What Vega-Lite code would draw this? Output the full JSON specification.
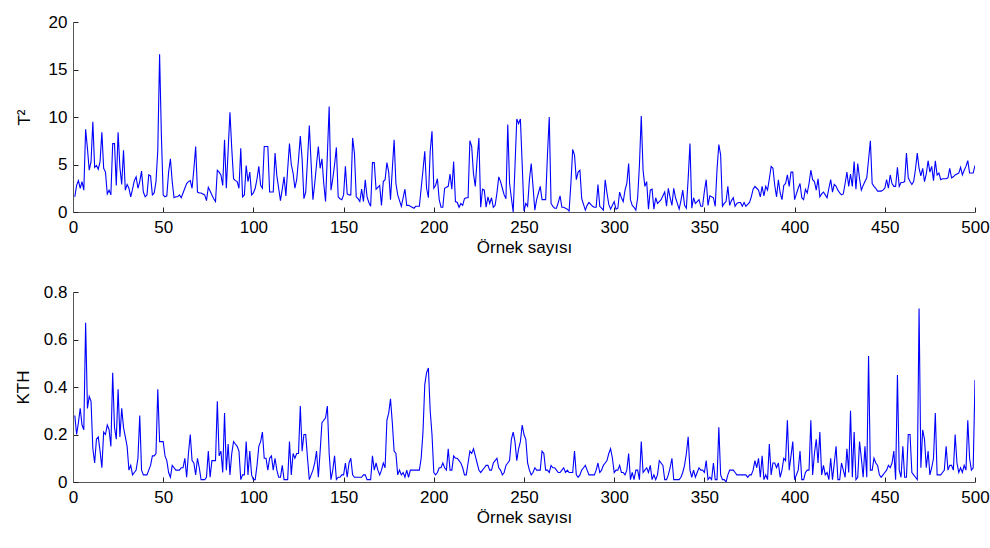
{
"$schema": "https://vega.github.io/schema/vega-lite/v6.json",
"background": "white",
"padding": {"left": 14, "top": 13, "right": 0, "bottom": 0},
"spacing": 28,
"config": {
  "view": {"stroke": null},
  "font": "Liberation Sans",
  "axis": {"grid": false, "domainColor": "#555", "domainWidth": 1, "tickColor": "#222", "tickSize": -5, "tickWidth": 1, "labelColor": "#000", "titleColor": "#000", "labelFontSize": 17, "titleFontSize": 17, "titleFontWeight": "normal", "labelPadding": 11}
},
"datasets": {"d": [
{"x":1,"t":1.6,"k":0.28},{"x":2,"t":2.8,"k":0.20},{"x":3,"t":3.3,"k":0.25},{"x":4,"t":2.5,"k":0.31},{"x":5,"t":3.2,"k":0.24},{"x":6,"t":2.3,"k":0.22},{"x":7,"t":8.7,"k":0.67},{"x":8,"t":6.7,"k":0.31},{"x":9,"t":4.4,"k":0.36},{"x":10,"t":5.3,"k":0.34},
{"x":11,"t":9.5,"k":0.14},{"x":12,"t":4.7,"k":0.08},{"x":13,"t":4.9,"k":0.18},{"x":14,"t":4.5,"k":0.19},{"x":15,"t":5.3,"k":0.13},{"x":16,"t":8.4,"k":0.06},{"x":17,"t":4.6,"k":0.21},{"x":18,"t":4.2,"k":0.20},{"x":19,"t":1.9,"k":0.24},{"x":20,"t":2.3,"k":0.22},
{"x":21,"t":1.8,"k":0.15},{"x":22,"t":7.2,"k":0.46},{"x":23,"t":7.2,"k":0.23},{"x":24,"t":2.8,"k":0.18},{"x":25,"t":8.4,"k":0.39},{"x":26,"t":4.7,"k":0.19},{"x":27,"t":2.9,"k":0.31},{"x":28,"t":6.5,"k":0.23},{"x":29,"t":2.3,"k":0.19},{"x":30,"t":2.9,"k":0.15},
{"x":31,"t":2.5,"k":0.05},{"x":32,"t":1.6,"k":0.07},{"x":33,"t":2.4,"k":0.03},{"x":34,"t":3.3,"k":0.04},{"x":35,"t":3.7,"k":0.05},{"x":36,"t":2.5,"k":0.10},{"x":37,"t":3.2,"k":0.28},{"x":38,"t":4.3,"k":0.05},{"x":39,"t":2.1,"k":0.03},{"x":40,"t":1.6,"k":0.03},
{"x":41,"t":1.8,"k":0.03},{"x":42,"t":3.9,"k":0.05},{"x":43,"t":3.8,"k":0.07},{"x":44,"t":1.8,"k":0.11},{"x":45,"t":2.0,"k":0.11},{"x":46,"t":3.2,"k":0.12},{"x":47,"t":6.5,"k":0.39},{"x":48,"t":16.6,"k":0.17},{"x":49,"t":8.0,"k":0.17},{"x":50,"t":1.8,"k":0.17},
{"x":51,"t":1.6,"k":0.11},{"x":52,"t":1.7,"k":0.09},{"x":53,"t":4.2,"k":0.04},{"x":54,"t":5.6,"k":0.02},{"x":55,"t":3.2,"k":0.07},{"x":56,"t":1.5,"k":0.06},{"x":57,"t":1.6,"k":0.05},{"x":58,"t":1.6,"k":0.05},{"x":59,"t":1.8,"k":0.05},{"x":60,"t":1.5,"k":0.06},
{"x":61,"t":2.0,"k":0.06},{"x":62,"t":2.5,"k":0.10},{"x":63,"t":3.0,"k":0.02},{"x":64,"t":3.2,"k":0.12},{"x":65,"t":3.3,"k":0.20},{"x":66,"t":2.5,"k":0.09},{"x":67,"t":4.5,"k":0.08},{"x":68,"t":6.9,"k":0.03},{"x":69,"t":2.1,"k":0.10},{"x":70,"t":2.0,"k":0.06},
{"x":71,"t":2.0,"k":0.01},{"x":72,"t":1.9,"k":0.01},{"x":73,"t":1.8,"k":0.01},{"x":74,"t":1.2,"k":0.02},{"x":75,"t":2.6,"k":0.13},{"x":76,"t":2.2,"k":0.02},{"x":77,"t":1.8,"k":0.09},{"x":78,"t":1.4,"k":0.09},{"x":79,"t":1.1,"k":0.09},{"x":80,"t":4.4,"k":0.34},
{"x":81,"t":4.2,"k":0.11},{"x":82,"t":3.9,"k":0.13},{"x":83,"t":2.8,"k":0.04},{"x":84,"t":7.6,"k":0.29},{"x":85,"t":2.5,"k":0.05},{"x":86,"t":6.5,"k":0.16},{"x":87,"t":10.5,"k":0.03},{"x":88,"t":6.7,"k":0.12},{"x":89,"t":3.5,"k":0.17},{"x":90,"t":3.3,"k":0.16},
{"x":91,"t":3.2,"k":0.15},{"x":92,"t":2.5,"k":0.13},{"x":93,"t":6.7,"k":0.01},{"x":94,"t":1.6,"k":0.03},{"x":95,"t":1.8,"k":0.03},{"x":96,"t":4.9,"k":0.17},{"x":97,"t":3.2,"k":0.03},{"x":98,"t":4.2,"k":0.13},{"x":99,"t":1.8,"k":0.03},{"x":100,"t":2.0,"k":0.01},
{"x":101,"t":2.5,"k":0.01},{"x":102,"t":3.5,"k":0.07},{"x":103,"t":4.8,"k":0.15},{"x":104,"t":2.8,"k":0.17},{"x":105,"t":2.5,"k":0.21},{"x":106,"t":6.9,"k":0.10},{"x":107,"t":6.9,"k":0.10},{"x":108,"t":6.9,"k":0.05},{"x":109,"t":2.1,"k":0.10},{"x":110,"t":2.1,"k":0.11},
{"x":111,"t":2.1,"k":0.05},{"x":112,"t":6.2,"k":0.10},{"x":113,"t":3.8,"k":0.05},{"x":114,"t":2.5,"k":0.02},{"x":115,"t":1.2,"k":0.02},{"x":116,"t":2.4,"k":0.07},{"x":117,"t":3.7,"k":0.01},{"x":118,"t":1.7,"k":0.01},{"x":119,"t":4.5,"k":0.01},{"x":120,"t":7.2,"k":0.17},
{"x":121,"t":5.0,"k":0.03},{"x":122,"t":4.1,"k":0.12},{"x":123,"t":2.5,"k":0.10},{"x":124,"t":3.4,"k":0.12},{"x":125,"t":5.5,"k":0.12},{"x":126,"t":8.0,"k":0.32},{"x":127,"t":5.6,"k":0.13},{"x":128,"t":1.4,"k":0.20},{"x":129,"t":2.1,"k":0.20},{"x":130,"t":5.5,"k":0.10},
{"x":131,"t":9.1,"k":0.01},{"x":132,"t":5.1,"k":0.03},{"x":133,"t":1.3,"k":0.05},{"x":134,"t":3.0,"k":0.08},{"x":135,"t":5.0,"k":0.13},{"x":136,"t":6.9,"k":0.02},{"x":137,"t":4.6,"k":0.13},{"x":138,"t":5.6,"k":0.25},{"x":139,"t":3.0,"k":0.26},{"x":140,"t":1.1,"k":0.27},
{"x":141,"t":6.0,"k":0.32},{"x":142,"t":11.1,"k":0.12},{"x":143,"t":2.3,"k":0.01},{"x":144,"t":3.5,"k":0.05},{"x":145,"t":5.0,"k":0.11},{"x":146,"t":6.8,"k":0.01},{"x":147,"t":1.6,"k":0.02},{"x":148,"t":1.4,"k":0.02},{"x":149,"t":1.3,"k":0.03},{"x":150,"t":1.8,"k":0.03},
{"x":151,"t":4.8,"k":0.08},{"x":152,"t":1.9,"k":0.02},{"x":153,"t":1.8,"k":0.08},{"x":154,"t":1.8,"k":0.10},{"x":155,"t":7.8,"k":0.03},{"x":156,"t":6.2,"k":0.02},{"x":157,"t":1.6,"k":0.02},{"x":158,"t":1.4,"k":0.02},{"x":159,"t":1.1,"k":0.02},{"x":160,"t":2.4,"k":0.02},
{"x":161,"t":1.1,"k":0.03},{"x":162,"t":3.4,"k":0.03},{"x":163,"t":1.6,"k":0.01},{"x":164,"t":1.0,"k":0.01},{"x":165,"t":0.6,"k":0.01},{"x":166,"t":5.2,"k":0.11},{"x":167,"t":5.2,"k":0.05},{"x":168,"t":2.4,"k":0.08},{"x":169,"t":2.6,"k":0.05},{"x":170,"t":2.8,"k":0.03},
{"x":171,"t":0.7,"k":0.05},{"x":172,"t":3.2,"k":0.08},{"x":173,"t":3.4,"k":0.06},{"x":174,"t":5.2,"k":0.26},{"x":175,"t":4.2,"k":0.29},{"x":176,"t":1.3,"k":0.35},{"x":177,"t":4.5,"k":0.25},{"x":178,"t":7.6,"k":0.13},{"x":179,"t":3.0,"k":0.12},{"x":180,"t":1.8,"k":0.03},
{"x":181,"t":1.2,"k":0.05},{"x":182,"t":0.6,"k":0.03},{"x":183,"t":1.5,"k":0.04},{"x":184,"t":2.4,"k":0.02},{"x":185,"t":0.7,"k":0.05},{"x":186,"t":0.7,"k":0.02},{"x":187,"t":0.6,"k":0.05},{"x":188,"t":0.5,"k":0.05},{"x":189,"t":0.4,"k":0.05},{"x":190,"t":0.6,"k":0.05},
{"x":191,"t":0.6,"k":0.05},{"x":192,"t":0.6,"k":0.05},{"x":193,"t":2.5,"k":0.10},{"x":194,"t":4.4,"k":0.21},{"x":195,"t":6.4,"k":0.41},{"x":196,"t":2.5,"k":0.46},{"x":197,"t":1.5,"k":0.48},{"x":198,"t":6.4,"k":0.30},{"x":199,"t":8.5,"k":0.20},{"x":200,"t":2.5,"k":0.04},
{"x":201,"t":2.8,"k":0.03},{"x":202,"t":3.5,"k":0.04},{"x":203,"t":1.3,"k":0.06},{"x":204,"t":0.5,"k":0.06},{"x":205,"t":0.5,"k":0.08},{"x":206,"t":2.5,"k":0.06},{"x":207,"t":2.6,"k":0.05},{"x":208,"t":2.7,"k":0.14},{"x":209,"t":4.0,"k":0.05},{"x":210,"t":2.4,"k":0.05},
{"x":211,"t":5.3,"k":0.11},{"x":212,"t":1.1,"k":0.10},{"x":213,"t":1.0,"k":0.10},{"x":214,"t":0.5,"k":0.09},{"x":215,"t":0.9,"k":0.08},{"x":216,"t":0.7,"k":0.06},{"x":217,"t":1.4,"k":0.03},{"x":218,"t":1.5,"k":0.03},{"x":219,"t":1.5,"k":0.08},{"x":220,"t":7.5,"k":0.13},
{"x":221,"t":6.9,"k":0.12},{"x":222,"t":4.0,"k":0.14},{"x":223,"t":2.7,"k":0.11},{"x":224,"t":5.5,"k":0.08},{"x":225,"t":7.8,"k":0.05},{"x":226,"t":0.5,"k":0.04},{"x":227,"t":2.4,"k":0.05},{"x":228,"t":2.3,"k":0.06},{"x":229,"t":0.5,"k":0.07},{"x":230,"t":1.6,"k":0.07},
{"x":231,"t":0.9,"k":0.05},{"x":232,"t":1.5,"k":0.05},{"x":233,"t":0.5,"k":0.08},{"x":234,"t":0.7,"k":0.09},{"x":235,"t":2.0,"k":0.10},{"x":236,"t":3.7,"k":0.06},{"x":237,"t":3.2,"k":0.05},{"x":238,"t":2.5,"k":0.03},{"x":239,"t":1.8,"k":0.04},{"x":240,"t":1.4,"k":0.07},
{"x":241,"t":9.2,"k":0.08},{"x":242,"t":3.0,"k":0.09},{"x":243,"t":1.5,"k":0.18},{"x":244,"t":0.0,"k":0.21},{"x":245,"t":4.8,"k":0.17},{"x":246,"t":9.8,"k":0.09},{"x":247,"t":9.3,"k":0.14},{"x":248,"t":9.8,"k":0.17},{"x":249,"t":5.0,"k":0.24},{"x":250,"t":0.1,"k":0.20},
{"x":251,"t":0.9,"k":0.18},{"x":252,"t":0.6,"k":0.08},{"x":253,"t":3.4,"k":0.05},{"x":254,"t":5.1,"k":0.03},{"x":255,"t":2.7,"k":0.04},{"x":256,"t":0.2,"k":0.06},{"x":257,"t":1.3,"k":0.05},{"x":258,"t":2.0,"k":0.05},{"x":259,"t":2.7,"k":0.05},{"x":260,"t":1.3,"k":0.13},
{"x":261,"t":1.3,"k":0.12},{"x":262,"t":1.3,"k":0.05},{"x":263,"t":6.0,"k":0.05},{"x":264,"t":10.0,"k":0.04},{"x":265,"t":0.9,"k":0.07},{"x":266,"t":0.6,"k":0.06},{"x":267,"t":0.4,"k":0.06},{"x":268,"t":0.4,"k":0.05},{"x":269,"t":1.0,"k":0.04},{"x":270,"t":1.7,"k":0.04},
{"x":271,"t":0.5,"k":0.05},{"x":272,"t":0.5,"k":0.06},{"x":273,"t":0.4,"k":0.04},{"x":274,"t":0.3,"k":0.05},{"x":275,"t":0.1,"k":0.04},{"x":276,"t":3.0,"k":0.04},{"x":277,"t":6.6,"k":0.04},{"x":278,"t":6.0,"k":0.13},{"x":279,"t":3.4,"k":0.03},{"x":280,"t":4.2,"k":0.02},
{"x":281,"t":4.4,"k":0.03},{"x":282,"t":1.4,"k":0.05},{"x":283,"t":0.8,"k":0.06},{"x":284,"t":0.2,"k":0.07},{"x":285,"t":0.7,"k":0.05},{"x":286,"t":1.0,"k":0.03},{"x":287,"t":0.8,"k":0.03},{"x":288,"t":0.6,"k":0.03},{"x":289,"t":0.5,"k":0.03},{"x":290,"t":0.5,"k":0.05},
{"x":291,"t":2.9,"k":0.08},{"x":292,"t":0.6,"k":0.04},{"x":293,"t":0.4,"k":0.05},{"x":294,"t":0.2,"k":0.07},{"x":295,"t":3.4,"k":0.08},{"x":296,"t":2.0,"k":0.09},{"x":297,"t":0.8,"k":0.12},{"x":298,"t":0.3,"k":0.14},{"x":299,"t":0.7,"k":0.10},{"x":300,"t":1.1,"k":0.04},
{"x":301,"t":0.3,"k":0.05},{"x":302,"t":0.4,"k":0.05},{"x":303,"t":2.1,"k":0.07},{"x":304,"t":1.5,"k":0.04},{"x":305,"t":1.1,"k":0.04},{"x":306,"t":2.3,"k":0.03},{"x":307,"t":3.0,"k":0.05},{"x":308,"t":5.1,"k":0.12},{"x":309,"t":1.3,"k":0.01},{"x":310,"t":0.7,"k":0.04},
{"x":311,"t":0.5,"k":0.01},{"x":312,"t":0.2,"k":0.05},{"x":313,"t":1.5,"k":0.05},{"x":314,"t":5.0,"k":0.01},{"x":315,"t":10.1,"k":0.17},{"x":316,"t":4.4,"k":0.04},{"x":317,"t":2.7,"k":0.05},{"x":318,"t":3.2,"k":0.06},{"x":319,"t":0.3,"k":0.04},{"x":320,"t":2.3,"k":0.07},
{"x":321,"t":2.4,"k":0.01},{"x":322,"t":0.3,"k":0.03},{"x":323,"t":1.5,"k":0.01},{"x":324,"t":0.9,"k":0.03},{"x":325,"t":1.1,"k":0.09},{"x":326,"t":1.3,"k":0.08},{"x":327,"t":1.7,"k":0.07},{"x":328,"t":2.1,"k":0.01},{"x":329,"t":0.6,"k":0.01},{"x":330,"t":2.5,"k":0.03},
{"x":331,"t":1.5,"k":0.06},{"x":332,"t":0.7,"k":0.10},{"x":333,"t":2.5,"k":0.01},{"x":334,"t":1.5,"k":0.01},{"x":335,"t":0.9,"k":0.01},{"x":336,"t":0.3,"k":0.01},{"x":337,"t":1.2,"k":0.02},{"x":338,"t":2.3,"k":0.04},{"x":339,"t":0.7,"k":0.07},{"x":340,"t":0.4,"k":0.12},
{"x":341,"t":3.5,"k":0.19},{"x":342,"t":7.2,"k":0.05},{"x":343,"t":0.4,"k":0.02},{"x":344,"t":1.5,"k":0.05},{"x":345,"t":0.9,"k":0.02},{"x":346,"t":1.1,"k":0.04},{"x":347,"t":1.3,"k":0.06},{"x":348,"t":0.6,"k":0.05},{"x":349,"t":0.6,"k":0.05},{"x":350,"t":2.2,"k":0.04},
{"x":351,"t":3.4,"k":0.09},{"x":352,"t":0.7,"k":0.01},{"x":353,"t":1.7,"k":0.02},{"x":354,"t":1.6,"k":0.01},{"x":355,"t":1.5,"k":0.08},{"x":356,"t":0.6,"k":0.01},{"x":357,"t":4.5,"k":0.01},{"x":358,"t":7.1,"k":0.23},{"x":359,"t":6.0,"k":0.03},{"x":360,"t":0.6,"k":0.01},
{"x":361,"t":0.9,"k":0.01},{"x":362,"t":1.1,"k":0.00},{"x":363,"t":2.7,"k":0.03},{"x":364,"t":0.7,"k":0.05},{"x":365,"t":1.2,"k":0.05},{"x":366,"t":1.5,"k":0.05},{"x":367,"t":0.6,"k":0.04},{"x":368,"t":0.9,"k":0.03},{"x":369,"t":1.0,"k":0.03},{"x":370,"t":1.0,"k":0.03},
{"x":371,"t":0.6,"k":0.03},{"x":372,"t":1.0,"k":0.03},{"x":373,"t":0.6,"k":0.03},{"x":374,"t":0.8,"k":0.02},{"x":375,"t":1.0,"k":0.03},{"x":376,"t":1.6,"k":0.03},{"x":377,"t":2.4,"k":0.05},{"x":378,"t":2.7,"k":0.09},{"x":379,"t":2.5,"k":0.06},{"x":380,"t":2.3,"k":0.10},
{"x":381,"t":1.6,"k":0.02},{"x":382,"t":2.7,"k":0.11},{"x":383,"t":1.7,"k":0.01},{"x":384,"t":2.7,"k":0.03},{"x":385,"t":2.3,"k":0.01},{"x":386,"t":3.5,"k":0.16},{"x":387,"t":4.8,"k":0.03},{"x":388,"t":4.6,"k":0.08},{"x":389,"t":2.8,"k":0.08},{"x":390,"t":1.6,"k":0.06},
{"x":391,"t":3.4,"k":0.08},{"x":392,"t":2.0,"k":0.02},{"x":393,"t":1.3,"k":0.05},{"x":394,"t":2.8,"k":0.10},{"x":395,"t":3.0,"k":0.09},{"x":396,"t":3.9,"k":0.26},{"x":397,"t":2.7,"k":0.05},{"x":398,"t":4.2,"k":0.11},{"x":399,"t":4.2,"k":0.17},{"x":400,"t":1.3,"k":0.01},
{"x":401,"t":1.9,"k":0.03},{"x":402,"t":2.5,"k":0.05},{"x":403,"t":3.0,"k":0.13},{"x":404,"t":1.5,"k":0.01},{"x":405,"t":1.3,"k":0.01},{"x":406,"t":2.4,"k":0.04},{"x":407,"t":2.0,"k":0.05},{"x":408,"t":3.0,"k":0.05},{"x":409,"t":4.4,"k":0.26},{"x":410,"t":3.4,"k":0.03},
{"x":411,"t":3.2,"k":0.12},{"x":412,"t":2.3,"k":0.18},{"x":413,"t":3.5,"k":0.08},{"x":414,"t":1.6,"k":0.21},{"x":415,"t":1.9,"k":0.03},{"x":416,"t":2.1,"k":0.07},{"x":417,"t":1.8,"k":0.03},{"x":418,"t":1.5,"k":0.04},{"x":419,"t":2.5,"k":0.01},{"x":420,"t":3.4,"k":0.10},
{"x":421,"t":2.1,"k":0.01},{"x":422,"t":2.9,"k":0.08},{"x":423,"t":2.7,"k":0.15},{"x":424,"t":2.3,"k":0.01},{"x":425,"t":2.0,"k":0.01},{"x":426,"t":1.8,"k":0.08},{"x":427,"t":1.9,"k":0.05},{"x":428,"t":3.0,"k":0.02},{"x":429,"t":4.2,"k":0.14},{"x":430,"t":2.7,"k":0.04},
{"x":431,"t":4.0,"k":0.30},{"x":432,"t":2.7,"k":0.02},{"x":433,"t":5.3,"k":0.21},{"x":434,"t":2.4,"k":0.01},{"x":435,"t":5.1,"k":0.02},{"x":436,"t":3.5,"k":0.17},{"x":437,"t":2.3,"k":0.10},{"x":438,"t":2.8,"k":0.02},{"x":439,"t":3.2,"k":0.15},{"x":440,"t":3.6,"k":0.02},
{"x":441,"t":5.5,"k":0.53},{"x":442,"t":7.5,"k":0.05},{"x":443,"t":3.0,"k":0.05},{"x":444,"t":2.7,"k":0.10},{"x":445,"t":2.5,"k":0.08},{"x":446,"t":2.2,"k":0.07},{"x":447,"t":2.2,"k":0.03},{"x":448,"t":2.2,"k":0.02},{"x":449,"t":2.3,"k":0.03},{"x":450,"t":2.5,"k":0.04},
{"x":451,"t":3.4,"k":0.05},{"x":452,"t":2.5,"k":0.07},{"x":453,"t":3.9,"k":0.06},{"x":454,"t":3.0,"k":0.08},{"x":455,"t":2.7,"k":0.13},{"x":456,"t":2.7,"k":0.01},{"x":457,"t":4.7,"k":0.45},{"x":458,"t":2.7,"k":0.05},{"x":459,"t":3.1,"k":0.02},{"x":460,"t":3.1,"k":0.15},
{"x":461,"t":3.2,"k":0.02},{"x":462,"t":6.2,"k":0.02},{"x":463,"t":3.6,"k":0.20},{"x":464,"t":3.2,"k":0.20},{"x":465,"t":2.9,"k":0.04},{"x":466,"t":3.2,"k":0.03},{"x":467,"t":4.5,"k":0.02},{"x":468,"t":6.2,"k":0.01},{"x":469,"t":4.6,"k":0.73},{"x":470,"t":3.8,"k":0.06},
{"x":471,"t":4.6,"k":0.22},{"x":472,"t":3.2,"k":0.18},{"x":473,"t":4.0,"k":0.06},{"x":474,"t":5.4,"k":0.13},{"x":475,"t":4.2,"k":0.03},{"x":476,"t":4.8,"k":0.06},{"x":477,"t":3.3,"k":0.10},{"x":478,"t":5.4,"k":0.29},{"x":479,"t":3.9,"k":0.03},{"x":480,"t":4.1,"k":0.03},
{"x":481,"t":3.4,"k":0.03},{"x":482,"t":3.5,"k":0.04},{"x":483,"t":3.5,"k":0.05},{"x":484,"t":3.5,"k":0.15},{"x":485,"t":3.6,"k":0.05},{"x":486,"t":4.6,"k":0.07},{"x":487,"t":3.6,"k":0.07},{"x":488,"t":3.7,"k":0.05},{"x":489,"t":3.9,"k":0.20},{"x":490,"t":4.0,"k":0.08},
{"x":491,"t":4.1,"k":0.04},{"x":492,"t":4.7,"k":0.06},{"x":493,"t":3.9,"k":0.04},{"x":494,"t":4.4,"k":0.07},{"x":495,"t":4.8,"k":0.05},{"x":496,"t":5.4,"k":0.26},{"x":497,"t":4.1,"k":0.10},{"x":498,"t":4.1,"k":0.05},{"x":499,"t":4.1,"k":0.06},{"x":500,"t":4.9,"k":0.43}
]},
"data": {"name": "d"},
"vconcat": [
  {
    "width": 902, "height": 190,
    "mark": {"type": "line", "color": "#0000ff", "strokeWidth": 1.1, "clip": true},
    "encoding": {
      "x": {"field": "x", "type": "quantitative", "scale": {"domain": [0, 500], "nice": false},
            "axis": {"values": [0,50,100,150,200,250,300,350,400,450,500], "title": "Örnek sayısı", "labelFlush": false, "labelPadding": 12, "titlePadding": 4}},
      "y": {"field": "t", "type": "quantitative", "scale": {"domain": [0, 20], "nice": false},
            "axis": {"values": [0,5,10,15,20], "title": "T²", "titlePadding": 15}}
    }
  },
  {
    "width": 902, "height": 190,
    "mark": {"type": "line", "color": "#0000ff", "strokeWidth": 1.1, "clip": true},
    "encoding": {
      "x": {"field": "x", "type": "quantitative", "scale": {"domain": [0, 500], "nice": false},
            "axis": {"values": [0,50,100,150,200,250,300,350,400,450,500], "title": "Örnek sayısı", "labelFlush": false, "labelPadding": 12, "titlePadding": 4}},
      "y": {"field": "k", "type": "quantitative", "scale": {"domain": [0, 0.8], "nice": false},
            "axis": {"values": [0,0.2,0.4,0.6,0.8], "format": "~g", "title": "KTH", "titlePadding": 11}}
    }
  }
]
}
